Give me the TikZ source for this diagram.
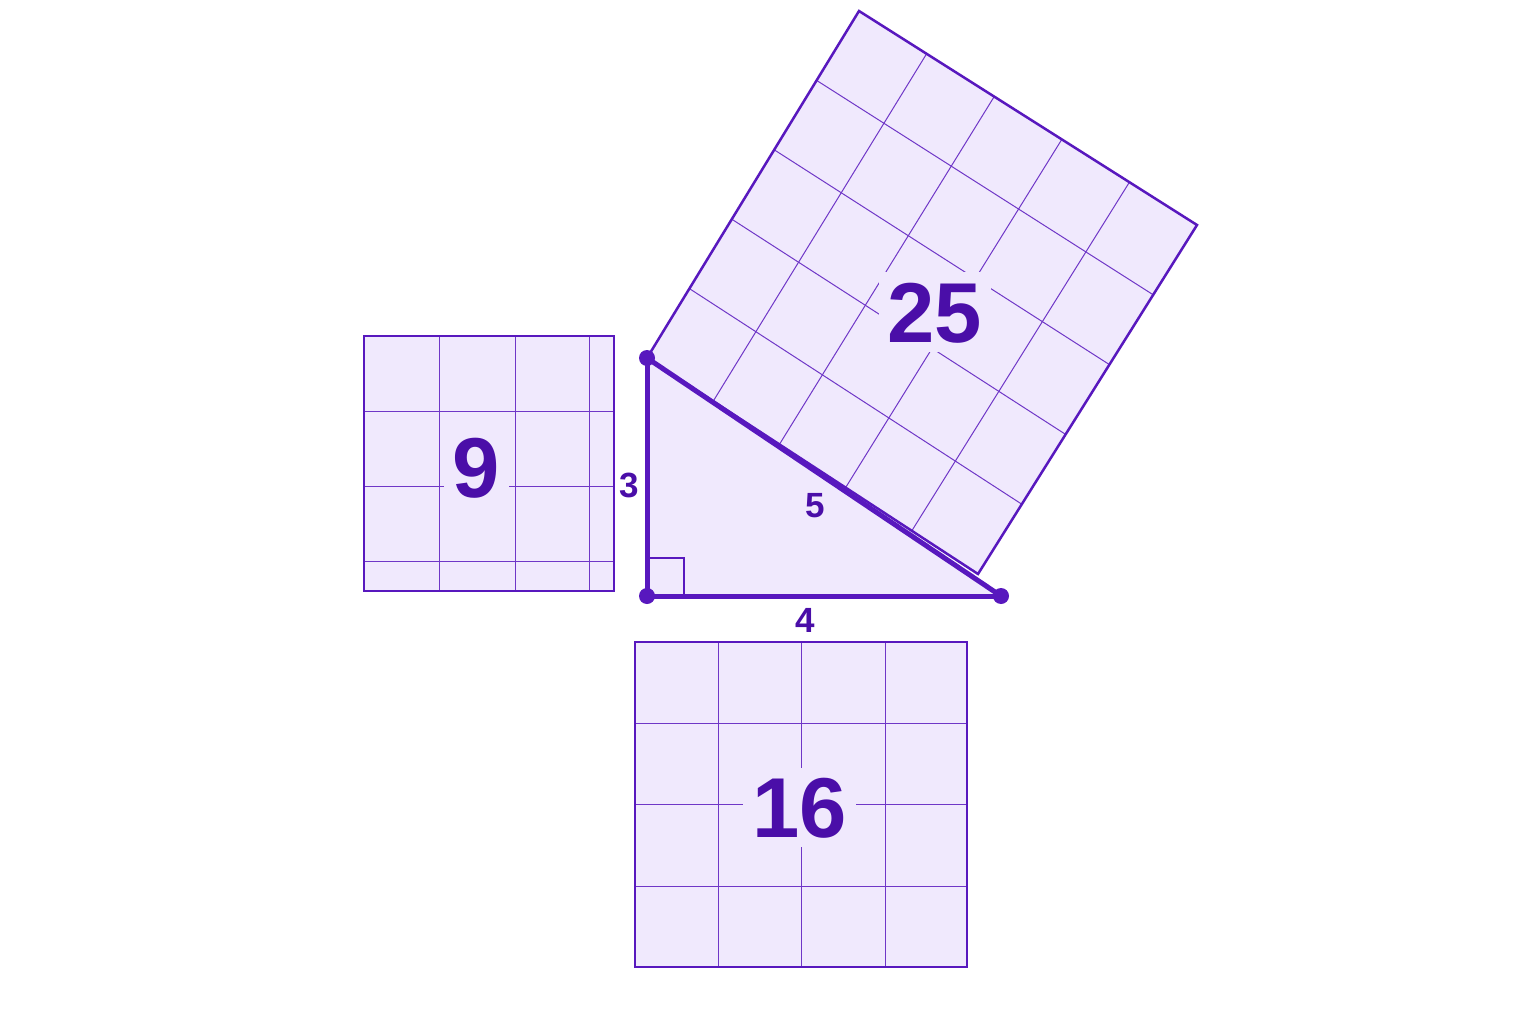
\documentclass[tikz,border=0pt]{standalone}
\usepackage{fontspec}
\setmainfont{Liberation Sans}
\usetikzlibrary{calc}
\definecolor{stroke}{RGB}{88,24,190}
\definecolor{ink}{RGB}{74,14,168}
\definecolor{lav}{RGB}{240,233,253}
\begin{document}
\begin{tikzpicture}[x=1pt,y=-1pt,
 gridline/.style={draw=stroke!85!lav,line width=1pt},
 leg/.style={draw=stroke,line width=5pt,line cap=round},
 vdot/.style={circle,fill=stroke,inner sep=0pt,minimum size=16pt},
 biglabel/.style={font=\fontsize{85}{85}\selectfont\bfseries,text=ink,fill=lav,inner xsep=9pt,inner ysep=9pt,text height=61pt,text depth=0pt},
 smalllabel/.style={font=\fontsize{35}{35}\selectfont\bfseries,text=ink,inner sep=0pt,text height=25pt,text depth=0pt}]
\useasboundingbox (0,0) rectangle (1536,1024);
\fill[white] (0,0) rectangle (1536,1024);

% square 9
\coordinate (n1) at (364,336);
\coordinate (n2) at (614,591);
\fill[lav] (n1) rectangle (n2);
\foreach \x in {439,515,589} \draw[gridline] (\x,336) -- (\x,591);
\foreach \y in {411,486,561} \draw[gridline] (364,\y) -- (614,\y);
\node[biglabel] (nine) at (476.5,467) {9};
\draw[draw=stroke,line width=2.5pt] (n1) rectangle (n2);

% square 16
\coordinate (s1) at (635,642);
\coordinate (s2) at (967,967);
\fill[lav] (s1) rectangle (s2);
\foreach \x in {718,801,885} \draw[gridline] (\x,642) -- (\x,967);
\foreach \y in {723,804,886} \draw[gridline] (635,\y) -- (967,\y);
\node[biglabel] (sixteen) at (799.5,807) {16};
\draw[draw=stroke,line width=2.5pt] (s1) rectangle (s2);

% square 25
\coordinate (A) at (647,358);
\coordinate (B) at (978,574);
\coordinate (C) at (1197,225);
\coordinate (D) at (859,11);
\fill[lav] (A) -- (B) -- (C) -- (D) -- cycle;
\foreach \t in {0.2,0.4,0.6,0.8} {
  \draw[gridline] ($(A)!\t!(D)$) -- ($(B)!\t!(C)$);
  \draw[gridline] ($(A)!\t!(B)$) -- ($(D)!\t!(C)$);
}
\node[biglabel] (twentyfive) at (935,312) {25};
\draw[draw=stroke,line width=2.5pt,line join=miter] (A) -- (B) -- (C) -- (D) -- cycle;

% triangle
\coordinate (R) at (647,596);
\coordinate (T) at (647,358);
\coordinate (S) at (1001,596);
\fill[lav] (R) -- (T) -- (S) -- cycle;
\draw[draw=stroke,line width=2pt] (647,558) -- (684,558) -- (684,596);
\draw[leg] (R) -- (T);
\draw[leg] (R) -- (S);
\draw[leg] (T) -- (S);
\node[vdot] (vR) at (R) {};
\node[vdot] (vT) at (T) {};
\node[vdot] (vS) at (S) {};

% side labels
\node[smalllabel] (l3) at (629,485) {3};
\node[smalllabel] (l4) at (805,620) {4};
\node[smalllabel] (l5) at (815.5,505) {5};
\end{tikzpicture}
\end{document}
